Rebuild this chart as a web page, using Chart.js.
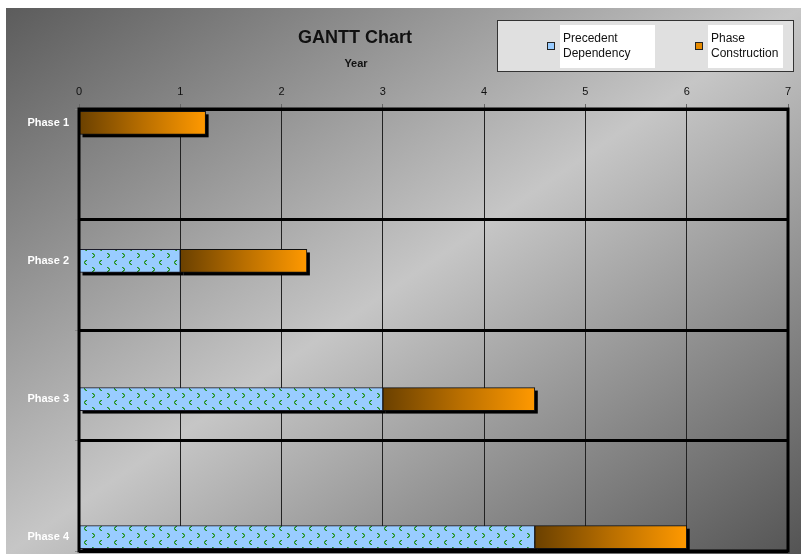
<!DOCTYPE html>
<html>
<head>
<meta charset="utf-8">
<script src="https://cdn.jsdelivr.net/npm/chart.js@4/dist/chart.umd.min.js"></script>
<style>
  html, body { margin: 0; padding: 0; background: #fff; }
  #wrap { position: relative; width: 801px; height: 554px; overflow: hidden; background: #fff;
          font-family: Arial, "Liberation Sans", sans-serif; }
  #bg { position: absolute; left: 6px; top: 8px; right: 0; bottom: 0;
        background: linear-gradient(to bottom right, #5c5c5c 0%, #c6c6c6 50%, #545454 100%); }
  #chart { position: absolute; left: 0; top: 0; }
  #title { position: absolute; left: 255px; top: 28px; width: 200px; text-align: center;
           font-size: 18px; line-height: 18px; font-weight: bold; color: #111; }
  #axisTitle { position: absolute; left: 306px; top: 58px; width: 100px; text-align: center;
               font-size: 11px; line-height: 11px; font-weight: bold; color: #111; }
  #legend { position: absolute; left: 497px; top: 20px; width: 295px; height: 50px;
            background: #e0e0e0; border: 1px solid #333; }
  .swatch { position: absolute; width: 6px; height: 6px; border: 1px solid #222; top: 21px; }
  .ltext { position: absolute; top: 4px; height: 37px; background: #fff; color: #111;
           font-size: 12px; line-height: 14.5px; padding: 6px 0 0 3px; box-sizing: content-box; }
</style>
</head>
<body>
<div id="wrap">
  <div id="bg"></div>
  <canvas id="chart" width="801" height="554"></canvas>
  <div id="title">GANTT Chart</div>
  <div id="axisTitle">Year</div>
  <div id="legend"></div>
</div>
<script>
// Project phases (rows, top to bottom)
const PHASES = ['Phase 1', 'Phase 2', 'Phase 3', 'Phase 4'];
// Series names
const SERIES = ['Precedent Dependency', 'Phase Construction'];
// Years of precedent work before each phase can start
const PRECEDENT = [0, 1, 3, 4.5];
// Years each phase takes to build
const CONSTRUCTION = [1.25, 1.25, 1.5, 1.5];
// Year axis range
const YEAR_MIN = 0;
const YEAR_MAX = 7;

const ORANGE = '#e68a00';
const BLUE = '#99ccff';

// Light blue fill with small green chevrons
function chevronPattern() {
  const c = document.createElement('canvas');
  c.width = 15; c.height = 14;
  const g = c.getContext('2d');
  g.fillStyle = BLUE;
  g.fillRect(0, 0, 15, 14);
  const dot = (x, y, col) => { g.fillStyle = col; g.fillRect(x, y, 1, 1); };
  const DARK = '#1f8a2e', LIGHT = '#4fae55';
  const right = (ox, oy) => {
    [[0,0],[1,1],[2,2],[1,3],[0,4]].forEach(([x, y]) => dot(ox + x, oy + y, DARK));
    [[1,0],[2,1],[2,3],[1,4]].forEach(([x, y]) => dot(ox + x, oy + y, LIGHT));
  };
  const left = (ox, oy) => {
    [[2,0],[1,1],[0,2],[1,3],[2,4]].forEach(([x, y]) => dot(ox + x, oy + y, DARK));
    [[1,0],[0,1],[0,3],[1,4]].forEach(([x, y]) => dot(ox + x, oy + y, LIGHT));
  };
  right(2, 1);
  left(9, 8);
  return g.createPattern(c, 'repeat');
}

// Orange gradient that runs along each construction bar
function constructionFill(ctx) {
  const chart = ctx.chart;
  const xs = chart.scales && chart.scales.x;
  if (ctx.type !== 'data' || !chart.chartArea || !xs) return ORANGE;
  const i = ctx.dataIndex;
  const x0 = xs.getPixelForValue(PRECEDENT[i]);
  const x1 = xs.getPixelForValue(PRECEDENT[i] + CONSTRUCTION[i]);
  const g = chart.ctx.createLinearGradient(x0, 0, x1, 0);
  g.addColorStop(0, '#6a4000');
  g.addColorStop(0.5, '#b86e00');
  g.addColorStop(1, '#ff9900');
  return g;
}

const rows = PHASES.map((_, i) => i + 1);

// Scales keep the plot edges exactly where the layout puts them
function noEdgePadding(s) {
  s.paddingTop = 0; s.paddingBottom = 0; s.paddingLeft = 0; s.paddingRight = 0;
}

// Solid black drop shadow behind every bar, drawn before the bars themselves
const barShadow = {
  id: 'barShadow',
  beforeDatasetsDraw(chart) {
    const c = chart.ctx;
    const { left, top, right, bottom } = chart.chartArea;
    c.save();
    c.beginPath();
    c.rect(left, top, right - left, bottom - top);
    c.clip();
    c.fillStyle = '#000';
    chart.data.datasets.forEach((_, di) => {
      chart.getDatasetMeta(di).data.forEach(el => {
        const { x, y, base, height } = el.getProps(['x', 'y', 'base', 'height'], true);
        const x0 = Math.min(x, base), w = Math.abs(x - base);
        if (w < 0.5) return;
        c.fillRect(x0 + 3, y - height / 2 + 3, w, height);
      });
    });
    c.restore();
  }
};

// Heavy frame around the plot area
const plotFrame = {
  id: 'plotFrame',
  afterDatasetsDraw(chart) {
    const { left, top, right, bottom } = chart.chartArea;
    const c = chart.ctx;
    c.save();
    c.strokeStyle = '#000';
    c.lineWidth = 3;
    c.strokeRect(left, top, right - left, bottom - top);
    c.restore();
  }
};

Chart.defaults.font.family = 'Arial, "Liberation Sans", sans-serif';

new Chart(document.getElementById('chart'), {
  type: 'bar',
  data: {
    datasets: [
      {
        label: SERIES[1],
        data: rows.map((r, i) => ({ y: r, x: [PRECEDENT[i], PRECEDENT[i] + CONSTRUCTION[i]] })),
        backgroundColor: constructionFill,
        borderColor: '#111',
        borderWidth: 1,
        borderSkipped: false,
        grouped: false,
        barThickness: 23
      },
      {
        label: SERIES[0],
        data: rows.map((r, i) => ({ y: r, x: [0, PRECEDENT[i]] })),
        backgroundColor: chevronPattern(),
        borderColor: '#1c1c2a',
        borderWidth: 1,
        borderSkipped: false,
        grouped: false,
        barThickness: 23
      }
    ]
  },
  options: {
    indexAxis: 'y',
    responsive: false,
    animation: false,
    layout: { padding: { top: 0, left: 0, right: 13, bottom: 3 } },
    plugins: { legend: { display: false }, title: { display: false }, tooltip: { enabled: false } },
    scales: {
      x: {
        type: 'linear',
        position: 'top',
        min: YEAR_MIN,
        max: YEAR_MAX,
        ticks: { stepSize: 1, color: '#111', font: { size: 11 }, padding: 5 },
        grid: { color: '#222', lineWidth: 1, tickLength: 5, tickColor: '#666', tickWidth: 1 },
        border: { display: false },
        afterFit(s) { s.height = 109; noEdgePadding(s); }
      },
      y: {
        type: 'linear',
        position: 'left',
        reverse: true,
        offset: false,
        min: 0.9,
        max: 4.1,
        weight: 1,
        afterBuildTicks(s) { s.ticks = rows.map(v => ({ value: v })); },
        ticks: {
          color: '#fff',
          font: { size: 11, weight: 'bold' },
          padding: 6,
          callback: v => PHASES[v - 1]
        },
        grid: { display: false, drawTicks: false, offset: false },
        border: { display: false },
        afterFit(s) { s.width = 75; noEdgePadding(s); }
      },
      rowBands: {
        type: 'linear',
        position: 'left',
        axis: 'y',
        offset: false,
        min: 0,
        max: PHASES.length,
        weight: 0,
        ticks: { stepSize: 1, display: false },
        grid: { color: '#000', lineWidth: 3, tickLength: 4, tickColor: '#888', tickWidth: 1, offset: false },
        border: { display: false },
        afterFit(s) { s.width = 4; noEdgePadding(s); }
      }
    }
  },
  plugins: [barShadow, plotFrame]
});

// Legend built from the series names
const legend = document.getElementById('legend');
const items = [
  { label: SERIES[0], color: BLUE, swatchLeft: 49, textLeft: 62, textWidth: 92 },
  { label: SERIES[1], color: ORANGE, swatchLeft: 197, textLeft: 210, textWidth: 72 }
];
items.forEach(it => {
  const sw = document.createElement('div');
  sw.className = 'swatch';
  sw.style.left = it.swatchLeft + 'px';
  sw.style.background = it.color;
  legend.appendChild(sw);
  const t = document.createElement('div');
  t.className = 'ltext';
  t.style.left = it.textLeft + 'px';
  t.style.width = it.textWidth + 'px';
  t.textContent = it.label;
  legend.appendChild(t);
});
</script>
</body>
</html>
